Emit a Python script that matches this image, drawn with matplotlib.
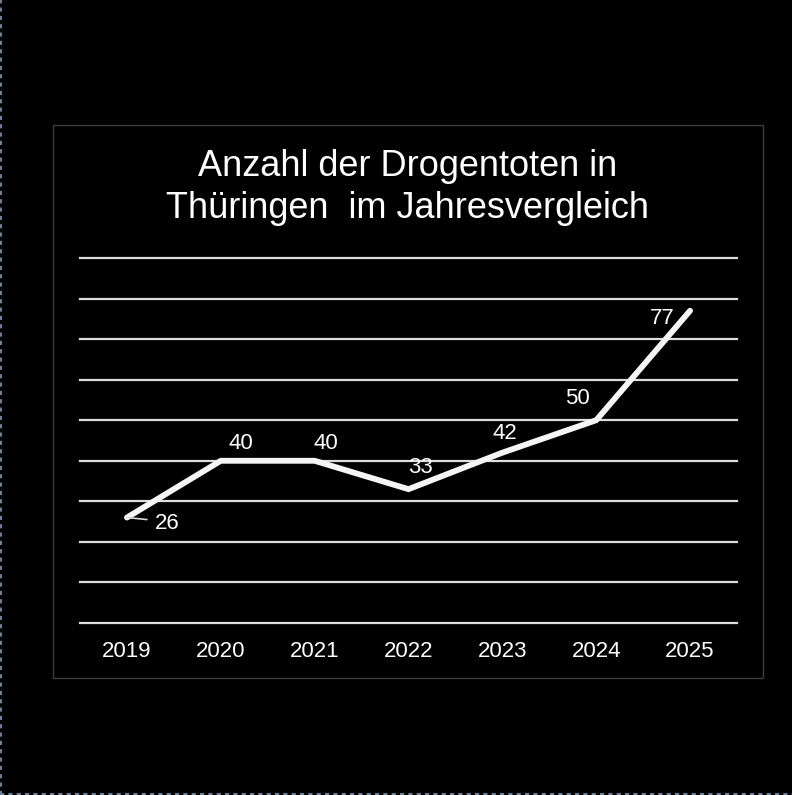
import matplotlib
matplotlib.use("Agg")
import matplotlib.pyplot as plt
from matplotlib.patches import Rectangle
from matplotlib.lines import Line2D

years = ["2019", "2020", "2021", "2022", "2023", "2024", "2025"]
deaths = [26, 40, 40, 33, 42, 50, 77]
title_lines = ["Anzahl der Drogentoten in", "Thüringen  im Jahresvergleich"]
grid_values = list(range(0, 100, 10))

plt.rcParams['font.family'] = ['Liberation Sans', 'DejaVu Sans']

W, H = 792, 795
fig = plt.figure(figsize=(W / 100, H / 100), dpi=100, facecolor='black')

# outer dashed border (left and bottom)
fig.add_artist(Line2D([0.6 / W, 0.6 / W], [0, 1], transform=fig.transFigure,
                      color='#6f7f95', lw=1.5, ls=(0, (2, 2))))
fig.add_artist(Line2D([0, 1], [1.5 / H, 1.5 / H], transform=fig.transFigure,
                      color='#6f7f95', lw=1.5, ls=(0, (2, 2))))

# inner chart frame
fig.add_artist(Rectangle((53 / W, 1 - 678 / H), (763 - 53) / W, (678 - 125) / H,
                         transform=fig.transFigure, fill=False,
                         edgecolor='#3c3c3c', lw=1))

ax = fig.add_axes([80 / W, 1 - 623 / H, 657 / W, (623 - 258) / H])
ax.set_facecolor('black')
x = list(range(len(years)))
ax.set_xlim(-0.5, len(years) - 0.5)
ax.set_ylim(0, 90)

for g in grid_values:
    ax.axhline(g, color='#dcdcdc', lw=1.6, clip_on=False, zorder=1)

ax.plot(x, deaths, color='#f5f5f5', lw=4.2, zorder=3, solid_joinstyle='miter',
        solid_capstyle='round')

for s in ax.spines.values():
    s.set_visible(False)
ax.set_yticks([])
ax.set_xticks(x)
ax.set_xticklabels(years, color='white', fontsize=16)
ax.tick_params(axis='x', length=0, pad=13)

# data labels (pixel offsets from the data point)
offsets = {0: (40, -6), 1: (20, 17), 2: (11, 17), 3: (12, 22), 4: (3, 19),
           5: (-19, 22), 6: (-28, -8)}
for i, v in enumerate(deaths):
    dx, dy = offsets[i]
    ax.annotate(str(v), (x[i], v), xytext=(dx, dy), textcoords='offset pixels',
                ha='center', va='center', color='white', fontsize=16, zorder=4)

# leader line for first label
ax.annotate('', (x[0], deaths[0]), xytext=(20, -2), textcoords='offset pixels',
            arrowprops=dict(arrowstyle='-', color='#d9d9d9', lw=1.2,
                            shrinkA=0, shrinkB=0))

fig.text(408 / W, 1 - 167 / H, title_lines[0], ha='center', va='center',
         color='white', fontsize=26)
fig.text(408 / W, 1 - 209 / H, title_lines[1], ha='center', va='center',
         color='white', fontsize=26)

fig.savefig('out.png', dpi=100, facecolor='black')
